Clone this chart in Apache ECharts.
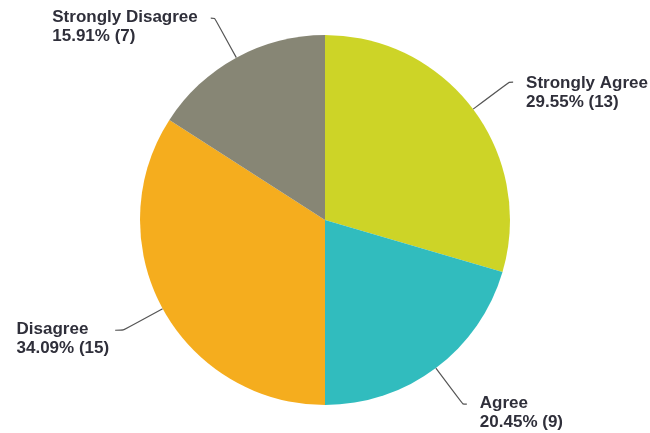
<!DOCTYPE html>
<html>
<head>
<meta charset="utf-8">
<script src="https://cdn.jsdelivr.net/npm/echarts@6/dist/echarts.min.js"></script>
<style>
  html, body { margin: 0; padding: 0; background: #fff; }
  #chart { width: 650px; height: 433px; }
</style>
</head>
<body>
<div id="chart"></div>
<script>
// Survey responses, clockwise from 12 o'clock
const categories = ['Strongly Agree', 'Agree', 'Disagree', 'Strongly Disagree'];
const counts = [13, 9, 15, 7];
const sliceColors = ['#cdd427', '#31bcbe', '#f5ad1e', '#878675'];

const chart = echarts.init(document.getElementById('chart'), null, { renderer: 'canvas' });

const textStyle = {
  align: 'left',
  fontFamily: '"Liberation Sans", Arial, sans-serif',
  fontSize: 17,
  fontWeight: 'bold',
  color: '#2f2f3a',
  lineHeight: 19
};

const data = categories.map((name, i) => {
  const item = { name: name, value: counts[i], itemStyle: { color: sliceColors[i] } };
  if (name === 'Disagree') {
    item.label = { distanceToLabelLine: 6 };
    item.labelLine = { length2: 8 };
  }
  if (name === 'Strongly Agree') {
    item.label = { padding: [22, 0, 0, 0] };
  }
  return item;
});

chart.setOption({
  animation: false,
  backgroundColor: '#ffffff',
  series: [{
    type: 'pie',
    center: [325, 220],
    radius: 185,
    startAngle: 90,
    clockwise: true,
    avoidLabelOverlap: false,
    percentPrecision: 2,
    data: data,
    label: {
      show: true,
      position: 'outside',
      formatter: '{n|{b}}\n{n|{d}% ({c})}',
      padding: [18, 0, 0, 0],
      distanceToLabelLine: 13,
      rich: { n: textStyle }
    },
    labelLine: {
      show: true,
      length: 45,
      length2: 4,
      smooth: 0.15,
      lineStyle: { color: '#555555', width: 1.2 }
    },
    emphasis: { disabled: true }
  }]
});
</script>
</body>
</html>
